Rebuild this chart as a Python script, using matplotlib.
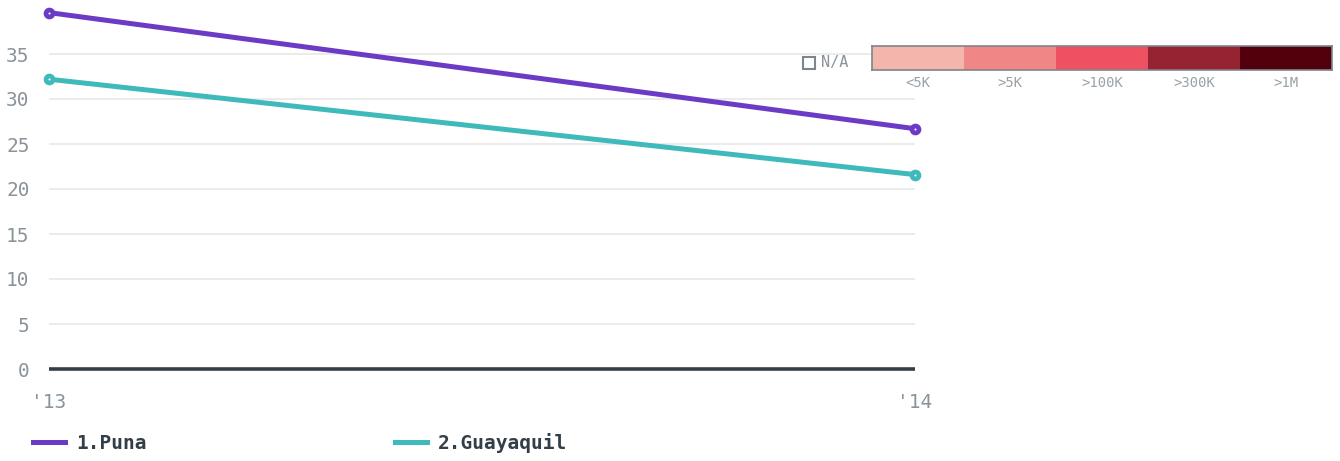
import matplotlib.pyplot as plt
import numpy as np
from matplotlib.patches import Rectangle

plt.rcParams['font.family'] = ['DejaVu Sans Mono']

years = [2013, 2014]
year_labels = ["'13", "'14"]
puna = [39.6, 26.7]
guayaquil = [32.2, 21.6]
series_names = ['1.Puna', '2.Guayaquil']
series_colors = ['#6c3bc6', '#3fbaba']

scale_labels = ['<5K', '>5K', '>100K', '>300K', '>1M']
scale_colors = ['#f4b5ac', '#f08686', '#ef5062', '#952331', '#52000c']

W, H = 1340, 461
fig = plt.figure(figsize=(W / 100, H / 100), dpi=100)

# main axes: x 49..915 px, y 0 at 369 px, 40 at 9 px
ax = fig.add_axes([49 / W, (H - 369) / H, (915 - 49) / W, 360 / H])
for vals, name, col in zip([puna, guayaquil], series_names, series_colors):
    ax.plot(years, vals, color=col, lw=3.6, marker='o', ms=5, mew=3.4,
            mfc='white', mec=col, clip_on=False, zorder=3, label=name)

ax.set_xlim(2013, 2014)
ax.set_ylim(0, 40)
ax.set_yticks(np.arange(0, 40, 5))
ax.set_xticks(years)
ax.set_xticklabels(year_labels)
ax.grid(axis='y', color='#e8e8e8', lw=1.2)
ax.axhline(0, color='#333f48', lw=2.6, zorder=2, clip_on=False,
           solid_capstyle='butt')
for s in ax.spines.values():
    s.set_visible(False)
ax.tick_params(length=0, labelsize=14, labelcolor='#8a9399')
ax.tick_params(axis='y', pad=14)
ax.tick_params(axis='x', pad=17)

# legend
leg = ax.legend(loc='center left', bbox_to_anchor=(-16 / 866, -74 / 360), ncol=2,
                frameon=False, borderpad=0, borderaxespad=0,
                handlelength=1.65, handletextpad=0.55,
                columnspacing=12.8, prop={'size': 14, 'weight': 'bold'})
for t in leg.get_texts():
    t.set_color('#333f48')
for l in leg.get_lines():
    l.set_marker('')
    l.set_linewidth(3.6)

# colour scale
cax = fig.add_axes([872 / W, (H - 70) / H, (1332 - 872) / W, 24 / H])
n = len(scale_labels)
cax.barh(0, np.ones(n), left=np.arange(n), height=1, color=scale_colors)
cax.set_xlim(0, n)
cax.set_ylim(-0.5, 0.5)
cax.set_yticks([])
cax.set_xticks(np.arange(n) + 0.5)
cax.set_xticklabels(scale_labels)
cax.tick_params(length=0, labelsize=10, labelcolor='#9aa1a6', pad=4)
for s in cax.spines.values():
    s.set_color('#7d868c')
    s.set_linewidth(1.2)

fig.patches.append(Rectangle((803 / W, (H - 69) / H), 12 / W, 12 / H,
                             transform=fig.transFigure, fill=False,
                             ec='#7d868c', lw=1.5))
fig.text(821 / W, (H - 63) / H, 'N/A', fontsize=11, color='#8a9399',
         ha='left', va='center')

fig.savefig('out.png', dpi=100)
